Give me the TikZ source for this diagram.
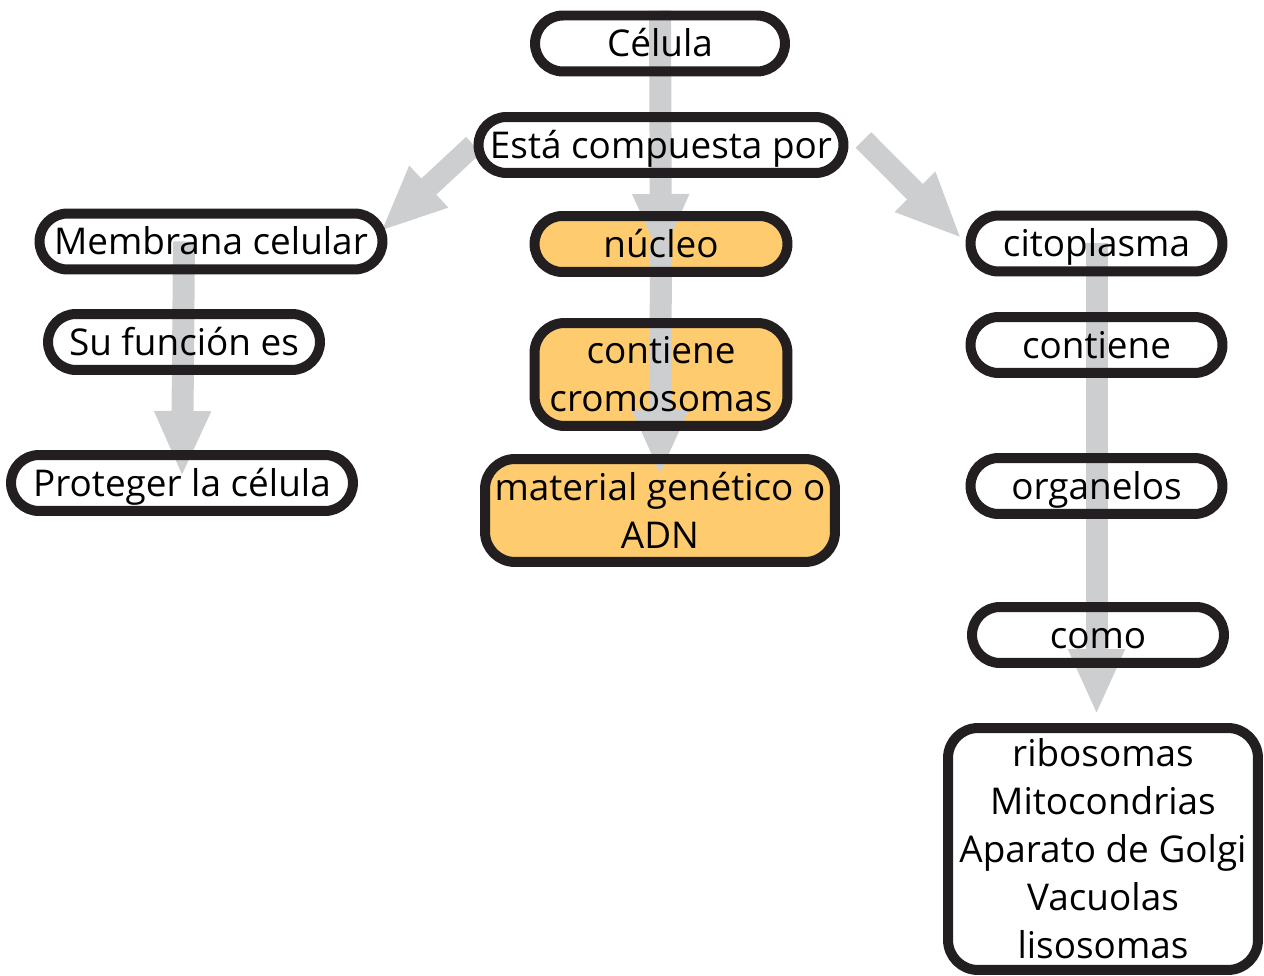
\documentclass[tikz,border=0pt]{standalone}
\usepackage{fontspec}
\setmainfont{Open Sans}
\usetikzlibrary{arrows.meta,calc}
\definecolor{cinza}{HTML}{CDCED0}
\definecolor{laranja}{HTML}{FECB6F}
\definecolor{borda}{HTML}{231F20}
\pgfdeclarelayer{fundo}
\pgfdeclarelayer{setas}
\pgfsetlayers{fundo,setas,main}

\begin{document}
\begin{tikzpicture}[x=0.02cm,y=-0.02cm,
    noh/.style={draw=borda,line width=0.2cm,inner sep=0pt,minimum width=5.04cm,
        minimum height=1.12cm,align=center,font=\fontsize{21}{27.3}\selectfont},
    pilula/.style={noh,rounded corners=0.56cm,text height=0.62cm,text depth=0.08cm},
    bloco/.style={noh,rounded corners=0.6cm},
    seta/.style={draw=cinza,line width=0.44cm,-{Triangle[length=1.32cm,width=1.04cm]}}]
\useasboundingbox (0,0) rectangle (1264,976);

% Centro
\node[pilula,minimum width=5cm] (celula) at (660,43.5) {Célula};
\node[pilula,minimum width=7.3cm] (esta) at (661,145) {Está compuesta por};
\node[pilula,minimum width=5.06cm] (nucleo) at (661,244) {núcleo};
\node[bloco,minimum width=5.06cm,minimum height=2.06cm] (cromosomas) at (661,374.5) {contiene\\cromosomas};
\node[bloco,minimum width=7cm,minimum height=2.06cm] (material) at (660,510.5) {material genético o\\ADN};

% Esquerda
\node[pilula,minimum width=6.86cm] (membrana) at (211,241.5) {Membrana celular};
\node[pilula,minimum width=5.44cm] (funcion) at (184,342) {Su función es};
\node[pilula,minimum width=6.84cm] (proteger) at (182,483) {Proteger la célula};

% Direita
\node[pilula] (citoplasma) at (1096.5,243.5) {citoplasma};
\node[pilula] (contiene) at (1096.5,345) {contiene};
\node[pilula] (organelos) at (1096.5,486) {organelos};
\node[pilula] (como) at (1098,635) {como};
\node[bloco,minimum width=6.2cm,minimum height=4.84cm] (organulos) at (1103,849)
    {ribosomas\\Mitocondrias\\Aparato de Golgi\\Vacuolas\\lisosomas};

% Preenchimento laranja
\begin{pgfonlayer}{fundo}
\foreach \n in {nucleo,cromosomas,material} {
    \fill[laranja,rounded corners=0.5cm] ([shift={(0.1cm,0.1cm)}]\n.south west)
        rectangle ([shift={(-0.1cm,-0.1cm)}]\n.north east);
}
\end{pgfonlayer}

% Setas
\begin{pgfonlayer}{setas}
\draw[seta] (celula.north) -- ($(nucleo.center)+(0,16)$);
\draw[seta] (nucleo.center) -- ($(material.center)+(0,-35)$);
\draw[seta] (esta.west) -- ($(membrana.east)+(-7,-10)$);
\draw[seta] ($(esta.east)+(15,-5)$) -- ($(citoplasma.west)+(-4,-5)$);
\draw[seta] (funcion.center |- membrana.center) -- ($(proteger.center)+(0,-6)$);
\draw[seta] (citoplasma.center) -- ($(citoplasma.center |- organulos.north)+(0,-8)$);
\end{pgfonlayer}
\end{tikzpicture}
\end{document}
